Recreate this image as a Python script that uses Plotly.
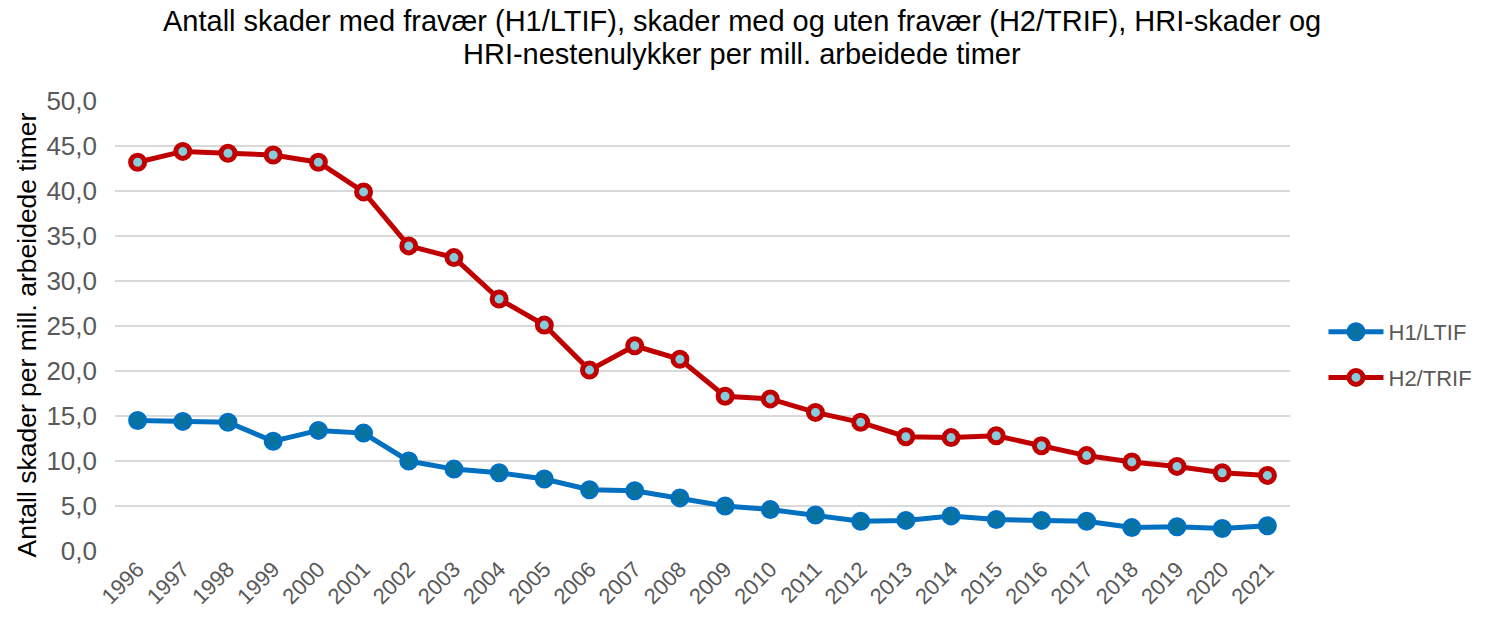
import plotly.graph_objects as go

years = [str(y) for y in range(1996, 2022)]
h1_ltif = [14.5, 14.4, 14.3, 12.2, 13.4, 13.1, 10.0, 9.1, 8.7, 8.0, 6.8, 6.7, 5.9,
           5.0, 4.6, 4.0, 3.3, 3.4, 3.9, 3.5, 3.4, 3.3, 2.6, 2.7, 2.5, 2.8]
h2_trif = [43.2, 44.4, 44.2, 44.0, 43.2, 39.9, 33.9, 32.6, 28.0, 25.1, 20.1, 22.8, 21.3,
           17.2, 16.9, 15.4, 14.3, 12.7, 12.6, 12.8, 11.7, 10.6, 9.9, 9.4, 8.7, 8.4]
y_ticks = [0, 5, 10, 15, 20, 25, 30, 35, 40, 45, 50]

title_line1 = "Antall skader med fravær (H1/LTIF), skader med og uten fravær (H2/TRIF), HRI-skader og"
title_line2 = "HRI-nestenulykker per mill. arbeidede timer"
y_title = "Antall skader per mill. arbeidede timer"

fig = go.Figure()
fig.add_trace(go.Scatter(
    x=years, y=h1_ltif, name="H1/LTIF", mode="lines+markers", legendgroup="a",
    line=dict(color="#0070C0", width=5),
    marker=dict(size=16, color="#08739E", line=dict(color="#0070C0", width=3)),
))
fig.add_trace(go.Scatter(
    x=years, y=h2_trif, name="H2/TRIF", mode="lines+markers", legendgroup="b",
    line=dict(color="#C00000", width=5),
    marker=dict(size=14, color="#86CCDD", line=dict(color="#C00000", width=5)),
))

fig.update_layout(
    width=1481, height=611,
    margin=dict(l=107, r=199, t=93, b=68, autoexpand=False),
    paper_bgcolor="white", plot_bgcolor="white",
    font=dict(family="Liberation Sans, Arial, sans-serif", color="#595959"),
    separators=", ",
    showlegend=True,
    legend=dict(x=1.0285, xanchor="left", y=0.4356, yanchor="middle",
                font=dict(size=22, color="#595959"), tracegroupgap=14, itemwidth=55,
                bgcolor="rgba(0,0,0,0)"),
    xaxis=dict(type="category", range=[-0.5, len(years) - 0.5], tickangle=-45,
               tickfont=dict(size=22, color="#595959"),
               showgrid=False, showline=False, ticks="", zeroline=False, automargin=False),
    yaxis=dict(range=[0, 50], tickvals=y_ticks, tickformat=".1f",
               tickfont=dict(size=26, color="#595959"),
               gridcolor="#D9D9D9", gridwidth=2, zeroline=False, showline=False,
               ticklabelstandoff=17, automargin=False),
    annotations=[
        dict(text=title_line1, xref="paper", yref="paper", x=0.5336, y=1.1778,
             xanchor="center", yanchor="middle", showarrow=False, align="center",
             font=dict(size=29, color="black")),
        dict(text=title_line2, xref="paper", yref="paper", x=0.5336, y=1.1045,
             xanchor="center", yanchor="middle", showarrow=False, align="center",
             font=dict(size=29, color="black")),
        dict(text=y_title, xref="paper", yref="paper", x=-0.0745, y=0.48,
             xanchor="center", yanchor="middle", textangle=-90, showarrow=False,
             font=dict(size=26.5, color="black")),
    ],
)

fig.write_html("out.html")
